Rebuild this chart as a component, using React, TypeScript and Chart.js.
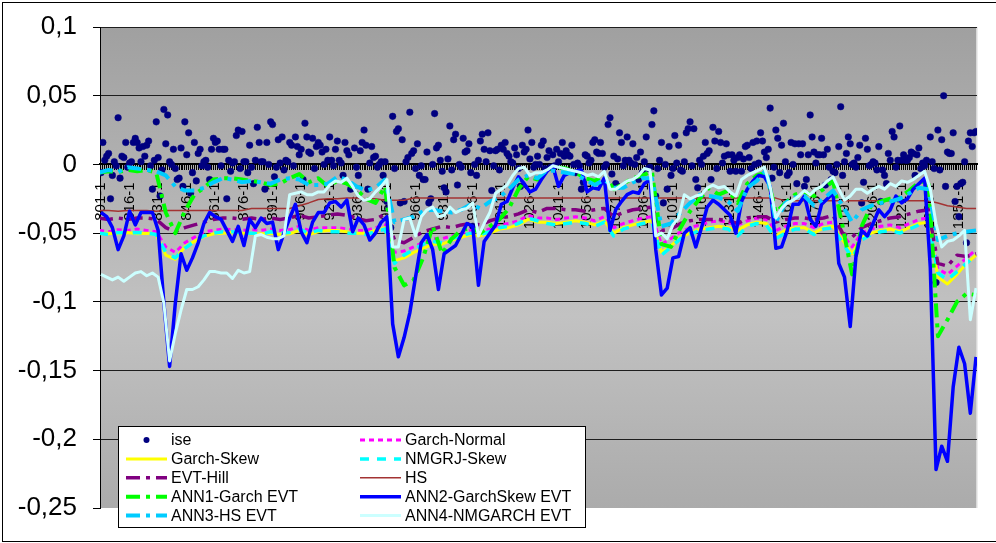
import React, { useEffect, useRef } from 'react';
import { Chart, registerables } from 'chart.js';

Chart.register(...registerables);

const FONT = '"Liberation Sans", Arial, Helvetica, sans-serif';

// Observation axis: 801 … 1260, every 15th observation labelled "n-1"
const FIRST_OBS = 801;
const LAST_OBS = 1260;
const LABEL_EVERY = 15;
const X_MIN = 800.5;
const X_MAX = 1260.5;

const Y_TICKS = [0.1, 0.05, 0, -0.05, -0.1, -0.15, -0.2, -0.25];

// All values below are in thousandths (0.001 units of return).

// ise daily return, one value per observation 801 … 1260
const ISE = [
  -6, 16, 3, 6, 8, -25, -8, 2, -1, 34, -10, 6, 5, 16, -2, 1, 2, 16, 19, 16,
  12, 2, 13, 6, 14, 17, -1, -18, 3, 31, 5, -23, -4, 40, 15, 36, 2, 0, 11, -3,
  -11, -10, 12, -16, 31, 7, 23, -21, -6, 16, -12, 8, 11, -1, 2, 3, -2, -11, 11, 19,
  16, 17, 11, -1, 11, 11, -25, 3, -5, 1, 2, 21, 25, -3, 24, 2, 2, -6, 14, -2,
  -14, 3, 27, 16, 2, 2, -18, 16, 0, 31, 29, -9, -2, 18, 1, 20, -4, 3, 2, 16,
  14, -1, 20, 13, 7, 11, -11, 30, 20, 9, 8, 19, -3, 13, 16,
  14, 9, 0, 11, 3, 20, 3, -1, 11, 17, 3, 1, -8, 16, 10, 7, -18, -17, 12, -2,
  -8, 10, 16, 25, 14, -18, 1, 13, 5, 6, -2, 0, 2, -8, 2, -27, -32, -46, 35, -3,
  24, 26, -28, 18, -27, 2, 5, 38, 8, 10, -3, 15, -8, -1, -11, -11, 9, -28, -25, 0,
  37, 12, 14, 3, -5, -17, -20, 4, 28, -4, 18, 22, -15, 0, -2, 19, 9, 10, 15, -6,
  -45, 0, -8, 3, 17, 22, 11, 2, 23, 10, -19, -1, 10, 11, -4, 14, 11, 16, 8, 6,
  2, 1, 12, 7, -3, -16, 14, 9, 11, 25, 4, 16, -2, 0, 6,
  0, 14, 17, -3, 5, 10, -2, 7, -1, 11, 2, 8, 16, 6, 10, 7, 6, 14, 0, -6,
  1, -1, -18, -13, 7, 6, 1, 3, 16, 18, 9, 8, 16, 8, -2, 0, 29, 34, -7, 6,
  -14, 4, 23, 16, -1, 3, 20, 3, 1, 15, 0, 5, -11, 9, -6, 2, 20, -3, -2, 29,
  39, -23, -3, 3, 16, -28, 0, -18, 13, -8, -3, 21, 1, 14, -4, -5, 2, 23, 26, 31,
  -1, 26, -11, -17, 3, 0, 6, 16, 8, 10, -11, 27, 17, -3, 24, 16, 1, 6, 15, 7,
  -5, 7, 3, -5, 5, 7, -5, 4, 13, 14, 5, -3, 16, 0, 17,
  1, 23, 17, 9, 5, 11, 41, -10, -2, 25, 19, -6, 14, 30, 2, -8, -6, 16, 0, 15,
  -14, 15, 7, 15, -16, -11, 7, 36, 20, 9, 1, 7, 7, 19, 7, -15, 11, -2, -11, -5,
  -6, 0, 13, 42, -8, 2, 8, 20, 15, 0, 1, -2, 5, 14, -28, -13, 19, 11, -1, 0,
  2, 1, -4, 13, -27, -4, -8, -14, 8, 3, 24, 20, -2, 3, 28, 3, 7, 3, 3, 5,
  9, 8, -8, 7, 12, -3, 1, -1, 3, -42, 20, 2, -3, -86, 25, -4, 18, 50, -16, 9,
  8, 8, 23, -27, -16, -38, -14, -13, 2, -57, 17, 23, 13, 23, 24,
];

// ANN series read every 3rd observation: 801, 804, … 1260
const FINE_START = 801;
const FINE_STEP = 3;

const ANN2_GARCHSKEW_EVT = [
  -35, -38, -46, -62, -52, -34, -44, -35, -35, -35, -48, -101, -147, -101, -65, -77, -68, -57, -43, -35,
  -38, -40, -48, -56, -45, -59, -40, -46, -39, -43, -42, -62, -50, -39, -29, -49, -57, -42, -35,
  -35, -28, -27, -31, -26, -49, -39, -44, -55, -50, -42, -38, -116, -140, -126, -108, -82, -57, -51, -62,
  -91, -65, -62, -59, -51, -43, -45, -88, -56, -50, -44, -29, -27, -17, -9, -14, -20, -18,
  -11, -5, -1, -16, -8, -6, -5, -4, -20, -17, -18, -10, -48, -33, -27, -22, -20, -21, -14, -11,
  -62, -95, -90, -68, -67, -50, -46, -60, -46, -31, -26, -29, -33, -37, -50, -27, -18, -12, -8,
  -9, -16, -61, -60, -48, -29, -29, -23, -40, -45, -29, -25, -21, -72, -82, -118, -67, -48, -52, -43,
  -33, -38, -33, -23, -28, -25, -18, -14, -10, -75, -222, -205, -216, -162, -133, -145, -181, -140,
];

const ANN4_NMGARCH_EVT = [
  -80, -82, -84, -82, -85, -82, -79, -78, -81, -79, -82, -101, -143, -123, -106, -91, -91, -89, -84, -78,
  -78, -79, -79, -83, -77, -79, -78, -52, -51, -53, -54, -54, -52, -22, -21, -20, -22, -22, -20,
  -20, -15, -12, -13, -10, -16, -23, -26, -25, -20, -16, -11, -60, -60, -40, -39, -52, -38, -33, -31,
  -38, -37, -31, -35, -33, -32, -28, -52, -43, -35, -21, -18, -15, -8, -3, -2, -8, -6,
  -6, -4, -1, -2, -3, -4, -5, -6, -8, -7, -9, -5, -18, -18, -15, -12, -11, -8, -3, -4,
  -52, -50, -54, -44, -39, -22, -25, -23, -22, -17, -15, -17, -16, -20, -23, -11, -8, -6, -4,
  -2, -16, -39, -32, -28, -26, -23, -19, -22, -18, -16, -12, -9, -18, -26, -23, -18, -18, -21, -18,
  -16, -18, -14, -16, -12, -13, -11, -8, -5, -18, -43, -60, -56, -55, -52, -48, -113, -90,
];

// Remaining series read every 5th observation: 800, 805, … 1260
const COARSE_START = 800;
const COARSE_STEP = 5;

const GARCH_NORMAL = [
  -48, -49, -47.5, -48, -47, -48, -49, -60, -64, -57, -53, -49, -48, -47, -47.5, -48, -47.5, -48, -47, -48, -47.5, -45, -48, -46,
  -46, -46, -47, -48, -48, -46, -44, -64, -63, -60, -57, -54, -54, -52, -50, -48, -49, -47, -44, -43, -41, -37, -39,
  -39, -40, -39, -38, -39, -41, -38, -46, -43, -41, -39, -38, -58, -54, -49, -46, -44, -42, -41, -42, -44, -41, -39,
  -40, -48, -45, -43, -43, -46, -43, -42, -51, -60, -50, -47, -45, -44, -46, -43, -40, -39, -76, -80, -74, -68, -62,
];

const GARCH_SKEW = [
  -50.5, -50, -50.5, -49.5, -50.5, -50, -51, -66, -69, -60, -56, -52.5, -50.5, -50, -49.5, -50, -50.5, -50.5, -50, -51, -50.5, -48, -51, -49,
  -48, -48, -49, -50, -50, -48, -46, -70, -68, -64, -61, -58, -58, -55, -53, -51, -52, -50, -47, -46, -44, -40, -42,
  -42, -43, -42, -41, -42, -44, -41, -50, -46, -44, -42, -41, -64, -59, -53, -50, -47, -46, -45, -46, -48, -44, -42,
  -43, -52, -48, -46, -46, -50, -46, -45, -55, -65, -53, -50, -48, -47, -49, -46, -43, -42, -82, -87, -80, -72, -66,
];

const NMGRJ_SKEW = [
  -50, -51, -49.5, -50, -49.5, -50, -51, -64, -68, -61, -56, -52, -50, -49, -49, -50, -50, -51, -49, -50, -49.5, -47, -50, -48,
  -49, -49, -50, -50, -51, -49, -47, -72, -66, -62, -58, -56, -57, -54, -52, -50, -51, -49, -46, -45, -43, -39, -41,
  -43, -44, -43, -42, -43, -45, -42, -52, -47, -45, -43, -42, -66, -60, -54, -51, -48, -47, -46, -47, -52, -45, -43,
  -44, -54, -50, -47, -47, -51, -47, -46, -57, -68, -55, -51, -49, -48, -50, -47, -44, -43, -79, -84, -78, -72, -66,
];

const EVT_HILL = [
  -39, -40, -39, -40, -39, -39, -40, -46, -49, -46, -44, -42, -40, -39, -39, -40, -39, -40, -39, -40, -39, -37, -39, -38,
  -37, -36, -37, -39, -41, -40, -36, -55, -57, -53, -49, -47, -45, -46, -44, -43, -44, -41, -39, -38, -36, -33, -35,
  -32, -32, -33, -33, -34, -33, -32, -38, -35, -33, -32, -31, -48, -47, -43, -41, -40, -40, -40, -41, -43, -39, -38,
  -38, -42, -40, -39, -39, -40, -39, -37, -50, -53, -46, -43, -41, -39, -38, -36, -34, -33, -72, -74, -66, -67, -65,
];

const HS = [
  -33.5, -33.5, -34, -33.5, -33.5, -33.5, -34, -33.5, -33.5, -33.5, -33.5, -33.5, -33.5, -33.5, -33.5, -33.5,
  -32, -32, -32, -32, -32, -30, -28,
  -25.5, -25, -25, -24.5, -24.5, -25, -25, -26, -26, -26,
  -24.5, -24.5, -24.5, -24.5, -24.5, -24.5, -24.5, -24.5, -24.5, -24.5, -24.5, -24.5, -24.5,
  -24.5, -24.5, -24.5, -24.5, -24.5, -24.5, -24.5, -24.5, -24.5, -24.5, -24.5, -24.5, -24.5,
  -24.5, -24.5, -24.5, -24.5, -24.5, -24.5, -24.5, -24.5, -24.5, -24.5, -24.5, -24.5, -24.5,
  -26.5, -26.5, -26.5, -26.5, -26.5, -26.5, -26.5, -26.5, -26.5, -26.5, -26.5, -26.5, -26.5, -26.5, -26.5, -26.5,
  -28, -30, -31, -32, -32,
];

const ANN1_GARCH_EVT = [
  -6, -5, -5.5, -4, -5, -4, -6, -35, -50, -34, -22, -17, -11, -10, -10, -11, -12, -13, -15, -14, -10, -7, -13, -10,
  -16, -12, -14, -18, -25, -28, -16, -75, -88, -84, -68, -45, -65, -54, -48, -46, -50, -45, -40, -32, -18, -9, -11,
  -4, -2, -3, -6, -10, -12, -8, -18, -14, -10, -8, -5, -58, -60, -46, -34, -25, -17, -22, -19, -28, -14, -8,
  -6, -35, -28, -22, -20, -23, -18, -12, -45, -80, -45, -30, -27, -25, -24, -19, -13, -12, -125, -113, -100, -94, -95,
];

const ANN3_HS_EVT = [
  -6, -4, -5.5, -2, -3, -4, -5, -8, -16, -19, -19, -17, -13, -10, -11, -13, -12, -13, -14, -11, -10, -11, -15, -15,
  -14, -9, -11, -16, -19, -17, -11, -42, -40, -38, -34, -33, -34, -35, -33, -29, -32, -27, -24, -18, -11, -8, -10,
  -4, -5, -6, -7, -11, -15, -11, -17, -17, -13, -10, -10, -45, -43, -35, -28, -22, -23, -24, -27, -34, -17, -12,
  -4, -42, -28, -24, -23, -30, -25, -19, -30, -42, -33, -30, -28, -27, -25, -21, -17, -18, -55, -52, -50, -49, -48,
];

const toPoints = (vals: number[], start: number, step: number) =>
  vals.map((v, i) => ({ x: start + i * step, y: v / 1000 }));

const DASH_DOT = [14, 6, 4, 6];

type LineSpec = { label: string; values: number[]; start: number; step: number; color: string; width: number; dash: number[] };

// Legend / drawing order after the ise scatter
const LINES: LineSpec[] = [
  { label: 'Garch-Normal', values: GARCH_NORMAL, start: COARSE_START, step: COARSE_STEP, color: '#FF00FF', width: 3, dash: [5, 4] },
  { label: 'Garch-Skew', values: GARCH_SKEW, start: COARSE_START, step: COARSE_STEP, color: '#FFFF00', width: 3, dash: [] },
  { label: 'NMGRJ-Skew', values: NMGRJ_SKEW, start: COARSE_START, step: COARSE_STEP, color: '#00FFFF', width: 3.5, dash: [9, 8] },
  { label: 'EVT-Hill', values: EVT_HILL, start: COARSE_START, step: COARSE_STEP, color: '#800080', width: 3.5, dash: DASH_DOT },
  { label: 'HS', values: HS, start: COARSE_START, step: COARSE_STEP, color: '#A33333', width: 1.5, dash: [] },
  { label: 'ANN1-Garch EVT', values: ANN1_GARCH_EVT, start: COARSE_START, step: COARSE_STEP, color: '#00FF00', width: 4, dash: DASH_DOT },
  { label: 'ANN2-GarchSkew EVT', values: ANN2_GARCHSKEW_EVT, start: FINE_START, step: FINE_STEP, color: '#0000FF', width: 3.5, dash: [] },
  { label: 'ANN3-HS EVT', values: ANN3_HS_EVT, start: COARSE_START, step: COARSE_STEP, color: '#00CCFF', width: 4, dash: DASH_DOT },
  { label: 'ANN4-NMGARCH EVT', values: ANN4_NMGARCH_EVT, start: FINE_START, step: FINE_STEP, color: '#CCFFFF', width: 3, dash: [] },
];

const OBSERVATIONS: number[] = [];
for (let n = FIRST_OBS; n <= LAST_OBS; n++) OBSERVATIONS.push(n);

const formatY = (v: number) => {
  const r = Math.round(v * 100) / 100;
  if (r === 0) return '0';
  return String(r).replace('.', ',');
};

// Keep the scales from reserving extra room around the plot
const noScalePadding = (scale: any) => {
  scale.paddingLeft = 0;
  scale.paddingRight = 0;
  scale.paddingTop = 0;
  scale.paddingBottom = 0;
};

// Grey graded plot background, light right edge and the outer frame
const backdropPlugin = {
  id: 'backdrop',
  beforeDraw(chart: any) {
    const { ctx, chartArea: a } = chart;
    ctx.save();
    const g = ctx.createLinearGradient(0, a.top, 0, a.bottom);
    g.addColorStop(0, '#a0a0a0');
    g.addColorStop(0.6, '#c2c2c2');
    g.addColorStop(1, '#ababab');
    ctx.fillStyle = g;
    ctx.fillRect(a.left, a.top, a.right - a.left, a.bottom - a.top);
    ctx.fillStyle = '#d9d9d9';
    ctx.fillRect(a.right - 1, a.top, 1.5, a.bottom - a.top);
    ctx.strokeStyle = '#000';
    ctx.lineWidth = 1;
    ctx.strokeRect(2.5, 2.5, 1000, 539);
    ctx.restore();
  },
};

// Boxed two-column legend in the lower-left corner of the plot
const boxLegendPlugin = {
  id: 'boxLegend',
  afterDraw(chart: any) {
    const { ctx } = chart;
    const left = 118.5;
    const top = 426.5;
    const w = 467;
    const h = 101;
    ctx.save();
    ctx.fillStyle = '#fff';
    ctx.fillRect(left, top, w, h);
    ctx.strokeStyle = '#000';
    ctx.lineWidth = 1;
    ctx.strokeRect(left, top, w, h);
    chart.data.datasets.forEach((ds: any, i: number) => {
      const col = i % 2;
      const row = Math.floor(i / 2);
      const cy = 440 + row * 18.9;
      const m0 = col === 0 ? 126 : 360;
      const m1 = m0 + 41;
      const tx = col === 0 ? 171 : 405;
      if (ds.showLine === false) {
        ctx.fillStyle = ds.pointBackgroundColor;
        ctx.beginPath();
        ctx.arc((m0 + m1) / 2, cy, 3, 0, Math.PI * 2);
        ctx.fill();
      } else {
        ctx.strokeStyle = ds.borderColor;
        ctx.lineWidth = ds.borderWidth;
        ctx.setLineDash(ds.borderDash || []);
        ctx.beginPath();
        ctx.moveTo(m0, cy);
        ctx.lineTo(m1, cy);
        ctx.stroke();
        ctx.setLineDash([]);
      }
      ctx.fillStyle = '#000';
      ctx.font = `16px ${FONT}`;
      ctx.textBaseline = 'middle';
      ctx.textAlign = 'left';
      ctx.fillText(ds.label, tx, cy + 1);
    });
    ctx.restore();
  },
};

export default function App() {
  const canvasRef = useRef<HTMLCanvasElement | null>(null);

  useEffect(() => {
    if (!canvasRef.current) return;
    const total = LINES.length + 1;
    const datasets: any[] = [
      {
        label: 'ise',
        data: toPoints(ISE, FIRST_OBS, 1),
        showLine: false,
        pointRadius: 3.3,
        pointBackgroundColor: '#000080',
        pointBorderColor: '#000080',
        pointBorderWidth: 0.5,
        borderColor: '#000080',
        backgroundColor: '#000080',
        order: total,
      },
      ...LINES.map((s, i) => ({
        label: s.label,
        data: toPoints(s.values, s.start, s.step),
        borderColor: s.color,
        backgroundColor: s.color,
        borderWidth: s.width,
        borderDash: s.dash,
        borderJoinStyle: 'round',
        borderCapStyle: 'butt',
        pointRadius: 0,
        fill: false,
        tension: 0,
        order: total - 1 - i,
      })),
    ];

    const chart = new Chart(canvasRef.current, {
      type: 'line',
      data: { datasets },
      plugins: [backdropPlugin, boxLegendPlugin],
      options: {
        responsive: false,
        animation: false,
        devicePixelRatio: 1,
        events: [],
        layout: { autoPadding: false, padding: { left: 0, top: 27, right: 19, bottom: 35 } },
        plugins: { legend: { display: false }, tooltip: { enabled: false } },
        scales: {
          x: {
            type: 'linear',
            min: X_MIN,
            max: X_MAX,
            position: { y: 0 },
            afterBuildTicks: (scale: any) => {
              scale.ticks = OBSERVATIONS.map((value) => ({ value }));
            },
            afterFit: noScalePadding,
            ticks: {
              autoSkip: false,
              minRotation: 90,
              maxRotation: 90,
              padding: 13,
              color: '#000',
              font: { family: FONT, size: 15 },
              callback: (v: any) => ((v - FIRST_OBS) % LABEL_EVERY === 0 ? `${v}-1` : ''),
            },
            grid: { drawOnChartArea: false, drawTicks: true, tickLength: 5, color: '#000', lineWidth: 1 },
            border: { display: true, color: '#000', width: 2 },
          },
          y: {
            type: 'linear',
            min: -0.25,
            max: 0.1,
            position: 'left',
            afterBuildTicks: (scale: any) => {
              scale.ticks = Y_TICKS.map((value) => ({ value }));
            },
            afterFit: (scale: any) => {
              scale.width = 100;
              noScalePadding(scale);
            },
            ticks: {
              padding: 16,
              color: '#000',
              font: { family: FONT, size: 26 },
              callback: (v: any) => formatY(Number(v)),
            },
            grid: {
              color: (c: any) => (c.tick && Math.abs(c.tick.value + 0.25) < 1e-9 ? 'rgba(0,0,0,0)' : '#1e1e1e'),
              tickColor: '#000',
              tickLength: 7,
              lineWidth: 1,
            },
            border: { display: true, color: '#000', width: 1 },
          },
        },
      } as any,
    });
    return () => chart.destroy();
  }, []);

  return (
    <div style={{ position: 'absolute', left: 0, top: 0, width: 996, height: 543, background: '#fff' }}>
      <canvas ref={canvasRef} width={996} height={543} />
    </div>
  );
}
